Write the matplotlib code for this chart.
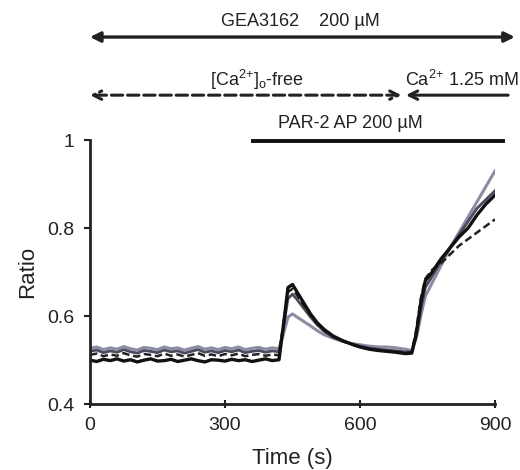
import matplotlib
matplotlib.use("Agg")
import matplotlib.pyplot as plt

plt.rcParams['font.family'] = ['Liberation Sans', 'DejaVu Sans']
plt.rcParams['mathtext.fontset'] = 'custom'
plt.rcParams['mathtext.rm'] = 'Liberation Sans'
plt.rcParams['mathtext.it'] = 'Liberation Sans'

# ==== Data ====
time_s = [0, 15, 30, 45, 60, 75, 90, 105, 120, 135, 150, 165, 180, 195, 210,
          225, 240, 255, 270, 285, 300, 315, 330, 345, 360, 375, 390, 405, 420,
          430, 440, 450, 460, 475, 490, 505, 520,
          540, 560, 580, 600, 620, 640, 660, 680, 700,
          715, 725, 735, 745,
          760, 780, 800, 820, 840, 860, 880, 900]

ratio_black = [0.500, 0.497, 0.502, 0.499, 0.503, 0.498, 0.501, 0.496, 0.500, 0.503,
               0.498, 0.499, 0.502, 0.497, 0.500, 0.503, 0.499, 0.496, 0.501, 0.500,
               0.498, 0.502, 0.499, 0.501, 0.497, 0.500, 0.503, 0.499, 0.501,
               0.580, 0.665, 0.672, 0.655, 0.630, 0.605, 0.585, 0.570,
               0.555, 0.545, 0.537, 0.530, 0.525, 0.522, 0.520, 0.518, 0.515,
               0.516, 0.560, 0.630, 0.680,
               0.700, 0.730, 0.755, 0.780, 0.800, 0.830, 0.855, 0.875]

ratio_gray = [0.527, 0.530, 0.524, 0.528, 0.525, 0.531, 0.526, 0.523, 0.529, 0.527,
              0.524, 0.530, 0.526, 0.528, 0.523, 0.527, 0.531, 0.525, 0.528, 0.524,
              0.529, 0.526, 0.530, 0.524, 0.527, 0.529, 0.525, 0.528, 0.526,
              0.560, 0.598, 0.605, 0.598, 0.588, 0.578, 0.567, 0.558,
              0.550, 0.543, 0.538, 0.535, 0.532, 0.530, 0.530, 0.528, 0.525,
              0.522, 0.550, 0.600, 0.645,
              0.675, 0.715, 0.755, 0.790, 0.825, 0.860, 0.895, 0.930]

ratio_dashed = [0.512, 0.515, 0.509, 0.513, 0.510, 0.516, 0.511, 0.508, 0.514, 0.512,
                0.509, 0.515, 0.510, 0.513, 0.508, 0.512, 0.516, 0.510, 0.513, 0.509,
                0.514, 0.511, 0.515, 0.509, 0.512, 0.514, 0.510, 0.513, 0.511,
                0.585, 0.655, 0.662, 0.648, 0.625, 0.602, 0.583, 0.568,
                0.553, 0.544, 0.536, 0.530, 0.526, 0.523, 0.521, 0.519, 0.517,
                0.518, 0.570, 0.640, 0.685,
                0.705, 0.720, 0.740, 0.760, 0.775, 0.790, 0.805, 0.820]

ratio_dark = [0.520, 0.523, 0.517, 0.521, 0.518, 0.524, 0.519, 0.516, 0.522, 0.520,
              0.517, 0.523, 0.519, 0.521, 0.516, 0.520, 0.524, 0.518, 0.521, 0.517,
              0.522, 0.519, 0.523, 0.517, 0.520, 0.522, 0.518, 0.521, 0.519,
              0.575, 0.640, 0.650, 0.638, 0.618, 0.598, 0.580, 0.566,
              0.552, 0.544, 0.537, 0.532, 0.528, 0.525, 0.523, 0.521, 0.519,
              0.519, 0.555, 0.615, 0.665,
              0.690, 0.725, 0.755, 0.785, 0.815, 0.845, 0.865, 0.885]

x_ticks = [0, 300, 600, 900]
y_ticks = [0.4, 0.6, 0.8, 1.0]
y_tick_labels = ["0.4", "0.6", "0.8", "1"]

# ==== Figure ====
fig = plt.figure(figsize=(5.2, 4.7), dpi=100)
ax = fig.add_axes([0.173, 0.140, 0.779, 0.562])

ax.plot(time_s, ratio_gray, color="#8c8ca4", lw=2.2)
ax.plot(time_s, ratio_dark, color="#4a4a5e", lw=2.0)
ax.plot(time_s, ratio_dashed, color="#222222", lw=1.8, ls=(0, (3, 1.5)))
ax.plot(time_s, ratio_black, color="#111111", lw=2.4)

ax.set_xlim(0, 900)
ax.set_ylim(0.4, 1.0)
ax.set_xticks(x_ticks)
ax.set_yticks(y_ticks)
ax.set_yticklabels(y_tick_labels)
ax.tick_params(axis="both", labelsize=14, colors="#222222", width=1.5)
ax.tick_params(axis="x", direction="inout", length=6, pad=6)
ax.tick_params(axis="y", direction="out", length=4, pad=7)
for side in ["top", "right"]:
    ax.spines[side].set_visible(False)
for side in ["left", "bottom"]:
    ax.spines[side].set_linewidth(2)
    ax.spines[side].set_color("#222222")

ax.set_xlabel("Time (s)", fontsize=16, color="#222222", labelpad=10)
ax.set_ylabel("Ratio", fontsize=16, color="#222222", labelpad=7)

# ==== Treatment annotations ====
tr = ax.get_xaxis_transform()
ax.annotate("", xy=(0, 1.39), xytext=(944, 1.39), xycoords=tr, textcoords=tr,
            arrowprops=dict(arrowstyle="<|-|>", lw=2.4, color="#222222",
                            mutation_scale=15, shrinkA=0, shrinkB=0), annotation_clip=False)
ax.text(467, 1.447, "GEA3162    200 \u00b5M", transform=tr, ha="center", va="center",
        fontsize=13, color="#222222")

ax.annotate("", xy=(0, 1.17), xytext=(692, 1.17), xycoords=tr, textcoords=tr,
            arrowprops=dict(arrowstyle="<->", lw=2.2, ls="--", color="#222222",
                            mutation_scale=15, shrinkA=0, shrinkB=0), annotation_clip=False)
ax.annotate("", xy=(702, 1.17), xytext=(929, 1.17), xycoords=tr, textcoords=tr,
            arrowprops=dict(arrowstyle="->", lw=2.2, color="#222222",
                            mutation_scale=15, shrinkA=0, shrinkB=0), annotation_clip=False)
ax.text(370, 1.227, r"[Ca$^\mathregular{2{+}}$]$_\mathregular{o}$-free", transform=tr,
        ha="center", va="center", fontsize=13, color="#222222")
ax.text(827, 1.227, r"Ca$^\mathregular{2{+}}$ 1.25 mM", transform=tr, ha="center",
        va="center", fontsize=13, color="#222222")

ax.plot([362, 918], [0.997, 0.997], color="#111111", lw=2.8, clip_on=False)
ax.text(578, 1.064, "PAR-2 AP 200 \u00b5M", transform=tr, ha="center", va="center",
        fontsize=13, color="#222222")

fig.savefig("out.png", dpi=100)
